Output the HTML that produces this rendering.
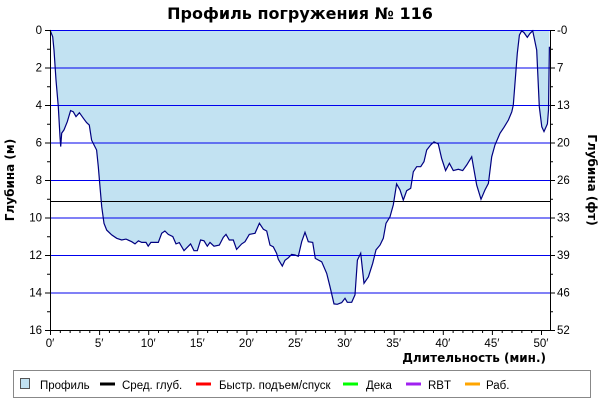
<!DOCTYPE html>
<html><head><meta charset="utf-8"><style>
body{margin:0;background:#fff;width:600px;height:400px;overflow:hidden;font-family:"Liberation Sans","DejaVu Sans",sans-serif}
svg text{font-family:"Liberation Sans","DejaVu Sans",sans-serif}
</style></head><body>
<svg id="chart" width="600" height="400" xmlns="http://www.w3.org/2000/svg">
<text x="300" y="19" text-anchor="middle" font-size="16" font-weight="bold" style="font-family:'DejaVu Sans',sans-serif">Профиль погружения № 116</text>
<g id="plot"></g>
<text transform="translate(14,180) rotate(-90)" text-anchor="middle" font-size="12" font-weight="bold" style="font-family:'DejaVu Sans',sans-serif">Глубина (м)</text>
<text transform="translate(588,180) rotate(90)" text-anchor="middle" font-size="12" font-weight="bold" style="font-family:'DejaVu Sans',sans-serif">Глубина (фт)</text>
<text x="546" y="362" text-anchor="end" font-size="12" font-weight="bold" style="font-family:'DejaVu Sans',sans-serif">Длительность (мин.)</text>
<g>
<rect x="13.5" y="370.5" width="577" height="27" fill="#fff" stroke="#888"/>
<rect x="20.5" y="378.5" width="9" height="10" fill="#c2e2f2" stroke="#555"/>
<text x="40" y="389" font-size="11.5">Профиль</text>
<line x1="100" x2="115" y1="384" y2="384" stroke="#000" stroke-width="3"/>
<text x="122" y="389" font-size="11.5">Сред. глуб.</text>
<line x1="196" x2="211" y1="384" y2="384" stroke="#f00" stroke-width="3"/>
<text x="219" y="389" font-size="11.5">Быстр. подъем/спуск</text>
<line x1="343" x2="358" y1="384" y2="384" stroke="#0f0" stroke-width="3"/>
<text x="366" y="389" font-size="11.5">Дека</text>
<line x1="406" x2="421" y1="384" y2="384" stroke="#a020f0" stroke-width="3"/>
<text x="428" y="389" font-size="11.5">RBT</text>
<line x1="465" x2="480" y1="384" y2="384" stroke="#ffa500" stroke-width="3"/>
<text x="486" y="389" font-size="11.5">Раб.</text>
</g>
</svg>
<script>
const times=[0,0.27,0.41,0.61,0.85,1.02,1.09,1.19,1.43,1.76,2.1,2.37,2.65,2.99,3.4,3.73,4.0,4.24,4.48,4.75,4.92,5.09,5.26,5.5,5.77,6.28,6.79,7.3,7.74,8.32,8.66,9.0,9.34,9.78,10.0,10.28,11.03,11.37,11.7,12.05,12.5,12.83,13.17,13.65,14.32,14.66,15.0,15.34,15.68,16.02,16.29,16.7,17.24,17.65,17.92,18.26,18.67,19.0,19.52,19.86,20.3,20.88,21.32,21.73,22.07,22.4,22.74,23.08,23.25,23.66,23.93,24.27,24.6,24.95,25.29,25.63,25.97,26.3,26.75,27.02,27.67,28.18,28.51,28.92,29.26,29.7,30.04,30.28,30.72,31.06,31.3,31.64,31.98,32.42,32.86,33.2,33.6,33.94,34.22,34.62,34.96,35.3,35.64,35.98,36.32,36.73,37.0,37.34,37.75,38.09,38.36,38.77,39.1,39.54,39.88,40.29,40.67,41.07,41.58,42.03,42.43,42.94,43.45,43.89,44.3,44.64,44.98,45.32,45.82,46.23,46.68,47.03,47.18,47.59,47.8,48.03,48.27,48.6,48.88,49.15,49.56,49.83,50.08,50.31,50.65,50.76,50.86];
const depths=[0,0.36,1.07,2.67,4.09,5.69,6.22,5.5,5.33,4.89,4.3,4.36,4.62,4.41,4.71,4.94,5.07,5.87,6.13,6.4,7.29,8.36,9.42,10.31,10.67,10.93,11.11,11.2,11.15,11.29,11.41,11.24,11.33,11.33,11.53,11.33,11.33,10.84,10.72,10.9,11.02,11.41,11.34,11.77,11.41,11.77,11.77,11.2,11.24,11.53,11.33,11.53,11.47,11.06,10.9,11.2,11.2,11.7,11.41,11.29,10.9,10.84,10.31,10.63,10.72,11.47,11.56,11.91,12.23,12.59,12.28,12.15,11.97,12.0,12.07,11.29,10.79,11.29,11.33,12.18,12.36,12.98,13.69,14.61,14.63,14.54,14.31,14.52,14.52,14.13,12.27,11.91,13.51,13.16,12.44,11.73,11.47,11.11,10.31,9.96,9.33,8.21,8.53,9.07,8.57,8.44,7.56,7.29,7.29,7.02,6.4,6.13,5.96,6.08,6.84,7.5,7.11,7.5,7.43,7.5,7.2,6.76,8.27,9.03,8.53,8.18,6.76,6.13,5.51,5.19,4.8,4.36,4.0,1.24,0.27,0.04,0.14,0.39,0.18,0.04,1.07,4.09,5.16,5.42,5.01,4.27,0.89];
const avgDepth=[9.12];
const depthTicks=[0,2,4,6,8,10,12,14,16];
const feetTicks=["0","7","13","20","26","33","39","46","52"];
const minuteTicks=[0,5,10,15,20,25,30,35,40,45,50];
const NS='http://www.w3.org/2000/svg';
const X0=50,X1=550,Y0=30,Y1=330;
const xs=t=>X0+t*9.82;
const ys=d=>Y0+d*(Y1-Y0)/16;
const plotG=document.getElementById('plot');
function mk(tag,attrs){const e=document.createElementNS(NS,tag);for(const k in attrs)e.setAttribute(k,attrs[k]);plotG.appendChild(e);return e;}
const pts=times.map((t,i)=>xs(t).toFixed(1)+','+ys(depths[i]).toFixed(1));
const area=mk('polygon',{points:xs(times[0])+','+Y0+' '+pts.join(' ')+' '+xs(times[times.length-1])+','+Y0,fill:'#c2e2f2'});


depthTicks.forEach(d=>{if(d>0&&d<16){const l=mk('line',{x1:X0,x2:X1,y1:ys(d)+0.5,y2:ys(d)+0.5,stroke:'#0000ee','stroke-width':1});

}});
const topLine=mk('line',{x1:X0,x2:X1,y1:Y0+0.5,y2:Y0+0.5,stroke:'#0000ee','stroke-width':1});


const av=mk('line',{x1:X0,x2:X1,y1:ys(avgDepth[0])+0.5,y2:ys(avgDepth[0])+0.5,stroke:'#000','stroke-width':1});


const pl=mk('polyline',{points:pts.join(' '),fill:'none',stroke:'#000080','stroke-width':1.2});


const ax=mk('path',{d:`M${X0+0.5},${Y0} V${Y1+0.5} H${X1+0.5} V${Y0}`,fill:'none',stroke:'#000'});


for(let d=0;d<=16;d++){const y=ys(d)+0.5;const maj=d%2===0;
mk('line',{x1:X0-(maj?5:3),x2:X0,y1:y,y2:y,stroke:'#000'});
mk('line',{x1:X1,x2:X1+(maj?5:3),y1:y,y2:y,stroke:'#000'});}
depthTicks.forEach((d,i)=>{
const t=mk('text',{x:X0-8,y:ys(d)+4,'text-anchor':'end','font-size':11.5});t.textContent=d;


const r=mk('text',{x:X1+7,y:ys(d)+4,'font-size':11.5});r.textContent=(i===0?'-':'')+feetTicks[i];

});
for(let m=0;m<=50;m++){const x=xs(m)+0.5;mk('line',{x1:x,x2:x,y1:Y1,y2:Y1+(m%5===0?5:3),stroke:'#000'});}
minuteTicks.forEach(m=>{const t=mk('text',{x:xs(m),y:Y1+17,'text-anchor':'middle','font-size':11.5});t.textContent=m+'′';

});
</script>
</body></html>
